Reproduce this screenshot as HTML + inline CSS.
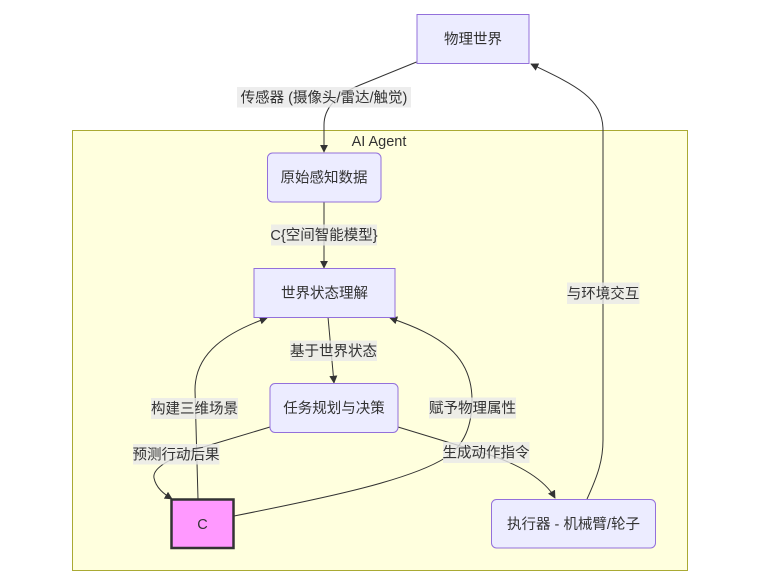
<!DOCTYPE html>
<html><head><meta charset="utf-8"><style>
html,body{margin:0;padding:0;background:#fff;}
svg{display:block;}
text{font-family:"Liberation Sans","Noto Sans CJK SC",sans-serif;font-size:14.5px;fill:#333;}
.node{fill:#ECECFF;stroke:#9370DB;stroke-width:1;}
.edge{fill:none;stroke:#333;stroke-width:1;}
.lbl{fill:rgba(232,232,232,0.8);}
</style></head><body>
<svg width="760" height="587" viewBox="0 0 760 587" xmlns="http://www.w3.org/2000/svg">
<defs>
<marker id="ah" viewBox="0 0 10 10" refX="9" refY="5" markerWidth="8" markerHeight="8" markerUnits="userSpaceOnUse" orient="auto">
<path d="M0,0 L10,5 L0,10 z" fill="#333"/>
</marker>
</defs>
<!-- cluster -->
<rect x="72.5" y="130.5" width="615" height="440" fill="#ffffde" stroke="#aaaa33" stroke-width="1"/>
<text x="379" y="146" text-anchor="middle">AI Agent</text>

<!-- edges -->
<path class="edge" d="M416.5,62 L360,85 Q324,100 324,125 L324,152" marker-end="url(#ah)"/>
<path class="edge" d="M324,202 L324,268" marker-end="url(#ah)"/>
<path class="edge" d="M328,317 L334,383" marker-end="url(#ah)"/>
<path class="edge" d="M270,427 L200,448 C170,458 152,468 154,478 C156,488 164,494 172,499" marker-end="url(#ah)"/>
<path class="edge" d="M198,499 L195,390 C195,352 228,332 267,318" marker-end="url(#ah)"/>
<path class="edge" d="M234,516 C330,497 410,480 445,458 C465,445 472,425 472,400 C472,355 440,335 390,318" marker-end="url(#ah)"/>
<path class="edge" d="M398,427 L490,455 C520,465 545,480 555,498" marker-end="url(#ah)"/>
<path class="edge" d="M587,499 C598,475 603,460 603,440 L603,130 C603,98 575,85 531,64" marker-end="url(#ah)"/>

<!-- nodes -->
<rect class="node" x="417" y="14.5" width="112" height="49"/>
<text x="473" y="44" text-anchor="middle">物理世界</text>

<rect class="node" x="267.5" y="153" width="113.5" height="49" rx="5" ry="5"/>
<text x="324" y="182.5" text-anchor="middle">原始感知数据</text>

<rect class="node" x="254" y="268.5" width="141" height="49"/>
<text x="324.5" y="298" text-anchor="middle">世界状态理解</text>

<rect class="node" x="270" y="383.5" width="128" height="49" rx="5" ry="5"/>
<text x="334" y="413" text-anchor="middle">任务规划与决策</text>

<rect x="171.5" y="499.5" width="62" height="48.5" fill="#ff99ff" stroke="#333" stroke-width="2.5"/>
<text x="202.5" y="529" text-anchor="middle">C</text>

<rect class="node" x="491.5" y="499.5" width="164" height="48.5" rx="5" ry="5"/>
<text x="573.5" y="529" text-anchor="middle">执行器 - 机械臂/轮子</text>

<!-- edge labels -->
<rect class="lbl" x="237" y="87" width="174" height="20.5"/>
<text x="324" y="102.5" text-anchor="middle">传感器 (摄像头/雷达/触觉)</text>

<rect class="lbl" x="271" y="224.5" width="106" height="21"/>
<text x="324" y="240" text-anchor="middle">C{空间智能模型}</text>

<rect class="lbl" x="290" y="340.5" width="87" height="20.5"/>
<text x="333.5" y="356" text-anchor="middle">基于世界状态</text>

<rect class="lbl" x="151" y="398" width="87" height="21"/>
<text x="194.5" y="413.5" text-anchor="middle">构建三维场景</text>

<rect class="lbl" x="133" y="444" width="86.5" height="20.5"/>
<text x="176" y="459.5" text-anchor="middle">预测行动后果</text>

<rect class="lbl" x="429" y="397.5" width="87" height="21"/>
<text x="472.5" y="413" text-anchor="middle">赋予物理属性</text>

<rect class="lbl" x="443" y="442" width="86.5" height="21"/>
<text x="486" y="457.5" text-anchor="middle">生成动作指令</text>

<rect class="lbl" x="567" y="282.5" width="72.5" height="21.5"/>
<text x="603" y="298.5" text-anchor="middle">与环境交互</text>
</svg>
</body></html>
